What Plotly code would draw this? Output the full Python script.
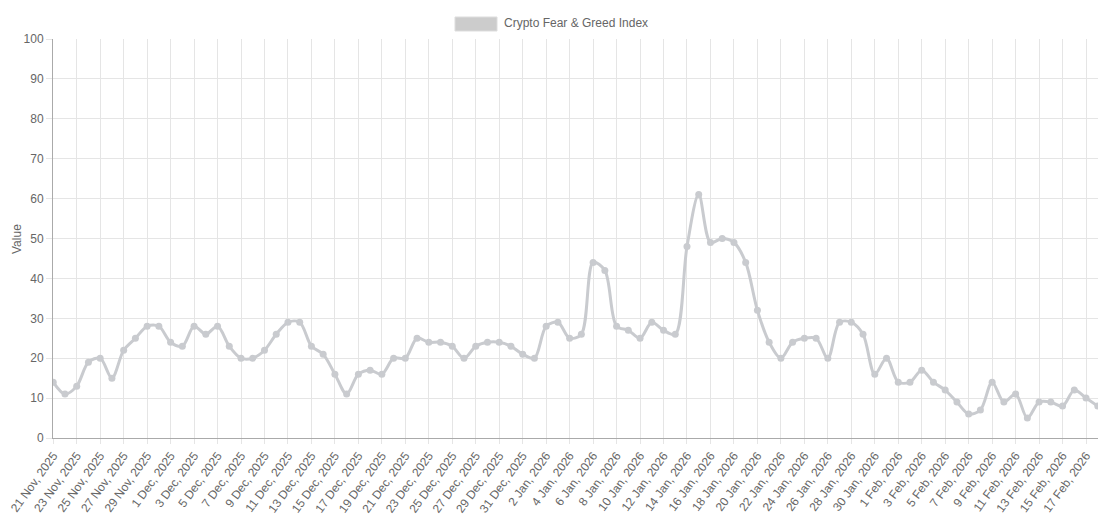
import datetime as dt
import plotly.graph_objects as go

# ----------------# Données : indice Fear & Greed quotidien

start_date = dt.date(2025, 11, 21)
values = [
    14, 11, 13, 19, 20, 15, 22, 25, 28, 28,
    24, 23, 28, 26, 28, 23, 20, 20, 22, 26,
    29, 29, 23, 21, 16, 11, 16, 17, 16, 20,
    20, 25, 24, 24, 23, 20, 23, 24, 24, 23,
    21, 20, 28, 29, 25, 26, 44, 42, 28, 27,
    25, 29, 27, 26, 48, 61, 49, 50, 49, 44,
    32, 24, 20, 24, 25, 25, 20, 29, 29, 26,
    16, 20, 14, 14, 17, 14, 12, 9, 6, 7,
    14, 9, 11, 5, 9, 9, 8, 12, 10, 8,
]
dates = [start_date + dt.timedelta(days=i) for i in range(len(values))]
labels = [f"{d.day} {d.strftime('%b')}, {d.year}" for d in dates]
y_ticks = list(range(0, 101, 10))

series_name = "Crypto Fear & Greed Index"
grey = "#c9cbcf"
text_grey = "#666666"

# ----------------# Graphique

fig = go.Figure()

fig.add_trace(go.Scatter(
    x=labels,
    y=values,
    mode="lines+markers",
    name=series_name,
    line=dict(color=grey, width=3, shape="spline", smoothing=0.9),
    marker=dict(color=grey, size=7),
    showlegend=False,
))

# page body has an 8px margin: the figure starts at (8, 8) in the window
W, H = 1104, 512
L, R, T, B = 45, 14, 31, 82
OFF = 8


def px(x):
    # screen pixel -> paper x
    return (x - OFF - L) / (W - L - R)


def py(y):
    # screen pixel -> paper y
    return (H - B - (y - OFF)) / (H - T - B)


fig.add_shape(type="rect", xref="paper", yref="paper",
              x0=px(455), x1=px(497), y0=py(31), y1=py(17),
              fillcolor="#cccccc", line=dict(color="#dddddd", width=1))
fig.add_annotation(text=series_name, xref="paper", yref="paper",
                   x=px(502), y=py(23), xanchor="left", yanchor="middle",
                   showarrow=False, font=dict(size=12, color=text_grey))
fig.add_annotation(text="Value", xref="paper", yref="paper",
                   x=px(8), y=py(239), xanchor="left", yanchor="middle",
                   textangle=-90, showarrow=False,
                   font=dict(size=12, color=text_grey))

fig.update_layout(
    width=W, height=H,
    margin=dict(l=L, r=R, t=T, b=B, autoexpand=False),
    paper_bgcolor="white",
    plot_bgcolor="white",
    font=dict(family="Liberation Sans, Arial, sans-serif", size=12, color=text_grey),
    xaxis=dict(
        type="category",
        tickvals=labels[::2],
        ticktext=labels[::2],
        tickangle=-54,
        showgrid=True,
        gridcolor="#e5e5e5",
        showline=True,
        linecolor="#aaaaaa",
        ticks="outside",
        ticklen=5,
        tickcolor="#e5e5e5",
        range=[-0.02, len(labels) - 1 + 0.02],
        zeroline=False,
        automargin=False,
        tickfont=dict(size=12, color=text_grey),
    ),
    yaxis=dict(
        range=[0, 100],
        tickvals=y_ticks,
        showgrid=True,
        gridcolor="#e5e5e5",
        showline=True,
        linecolor="#aaaaaa",
        ticks="outside",
        ticklen=6,
        tickcolor="#e5e5e5",
        zeroline=False,
        automargin=False,
        tickfont=dict(size=12, color=text_grey),
    ),
)

fig.write_html("out.html")
